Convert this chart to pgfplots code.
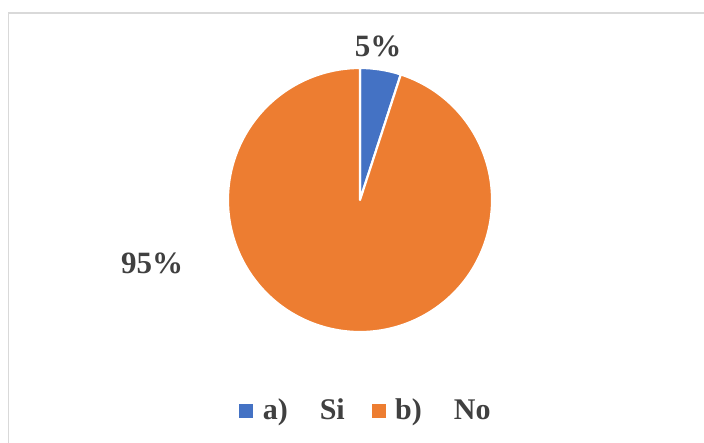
\documentclass[border=0pt]{standalone}
\usepackage{pgfplots}
\pgfplotsset{compat=1.18}
\usepackage{pgfplotstable}
\usepackage{fontspec}
\setmainfont{Liberation Serif}

\definecolor{siblue}{HTML}{4472C4}
\definecolor{noorange}{HTML}{ED7D31}
\definecolor{txtgray}{HTML}{404040}
\definecolor{framegray}{HTML}{D9D9D9}

% answer shares in percent
\pgfplotstableread{
label value
Si 5
No 95
}\piedata

\begin{document}
\begin{tikzpicture}
\pgfplotstablegetelem{0}{value}\of\piedata \let\vSi\pgfplotsretval
\pgfplotstablegetelem{1}{value}\of\piedata \let\vNo\pgfplotsretval
\pgfmathsetmacro\aSi{90-3.6*\vSi}
\pgfmathsetmacro\aNo{\aSi-3.6*\vNo}
\begin{axis}[
  scale only axis, width=704pt, height=443pt,
  xmin=0, xmax=704, ymin=0, ymax=443,
  hide axis, clip=false,
  legend columns=2,
  legend style={draw=none, fill=none, at={(axis cs:366,33)}, anchor=center,
    font=\fontsize{30}{34}\selectfont\bfseries, text=txtgray,
    /tikz/every even column/.append style={column sep=25pt}},
  legend cell align=left,
  legend image code/.code={\fill[#1] (0pt,-7pt) rectangle (13pt,5.5pt); \path (21pt,0pt);},
]
% chart area frame
\draw[framegray, line width=1.6pt] (axis cs:8.5,0) -- (axis cs:8.5,430) -- (axis cs:704,430);
% slices
\fill[siblue, draw=white, line width=2.2pt, line join=round]
  (axis cs:360,243) -- ++(90:132pt) arc[start angle=90, end angle=\aSi, radius=132pt] -- cycle;
\fill[noorange, draw=white, line width=2.2pt, line join=round]
  (axis cs:360,243) -- ++(\aSi:132pt) arc[start angle=\aSi, end angle=\aNo, radius=132pt] -- cycle;
% data labels
\node[font=\fontsize{31}{36}\selectfont\bfseries, text=txtgray] at (axis cs:378,397) {\vSi\%};
\node[font=\fontsize{31}{36}\selectfont\bfseries, text=txtgray] at (axis cs:152,180) {\vNo\%};
\addlegendimage{siblue}
\addlegendentry{a)\hspace{32pt}Si}
\addlegendimage{noorange}
\addlegendentry{b)\hspace{32pt}No}
\end{axis}
\pgfresetboundingbox
\useasboundingbox (0,0) rectangle (704pt,443pt);
\end{tikzpicture}
\end{document}
